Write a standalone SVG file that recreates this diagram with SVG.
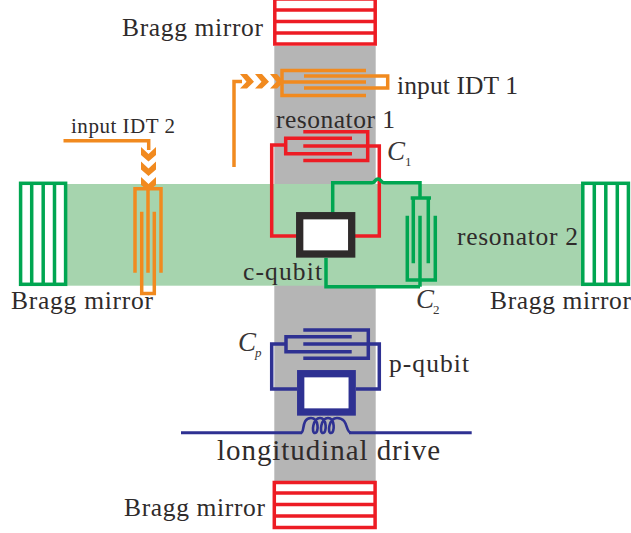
<svg xmlns="http://www.w3.org/2000/svg" width="631" height="533" viewBox="0 0 631 533">
<style>
.t{font-family:"Liberation Serif","Times New Roman",serif;font-size:25.5px;fill:#2f2b2b}
.i{font-style:italic;font-size:27px;fill:#3a3636}
.s{font-size:13px;fill:#3a3636}
.w{fill:none;stroke-width:3.5;stroke-linecap:butt;stroke-linejoin:miter}
.r{stroke:#ed1c24}.g{stroke:#00a651}.b{stroke:#2e3192}.o{stroke:#f18a1f}
.m{fill:#fff;stroke-width:3.5}
</style>
<rect width="631" height="533" fill="#fff"/>
<g id="resonator-1"><rect x="274.300" y="46" width="101.400" height="436" fill="#b5b5b5"/></g>
<g id="resonator-2"><rect x="20" y="184" width="562" height="101.700" fill="#a6d4ae"/></g>
<g id="mirror-top">
<rect class="m r" x="274.800" y="-1" width="100.400" height="45"/>
<path class="w r" d="M275 10H375M275 21.500H375M275 33H375"/>
</g>
<g id="mirror-bottom">
<rect class="m r" x="274.300" y="482.500" width="100.800" height="45"/>
<path class="w r" d="M274 493H375M274 504.500H375M274 516H375"/>
</g>
<g id="mirror-left">
<rect class="m g" x="20.600" y="183.300" width="45" height="101"/>
<path class="w g" d="M31.700 183V284M43.200 183V284M54.500 183V284"/>
</g>
<g id="mirror-right">
<rect class="m g" x="582.800" y="183.300" width="45.600" height="101"/>
<path class="w g" d="M594.300 183V284M605.800 183V284M617.300 183V284"/>
</g>
<g id="connectors">
<path class="w o" d="M234 167V81.500H242"/>
<path class="w o" d="M63.500 140.700H148.700V150"/>
<path class="w b" d="M181 432.700H302" style="stroke-width:3"/>
<path class="w b" d="M349 432.700H471.700" style="stroke-width:3"/>
<path fill="none" stroke="#2e3192" stroke-width="2.600" d="M301 432.700C305 432.700 301 418 311 418C319 418 319 433 315 433C311 433 313 418 320 418C327 418 327 433 323 433C319 433 321 418 328 418C335 418 335 433 331 433C327 433 329 418 337 418C349 418 345 432.700 351 432.700"/>
<path class="w r" d="M285.700 145H271.700V236H297"/>
<path class="w r" d="M367 146H379.300V236H355"/>
<path class="w g" d="M332.700 213V182.700H372C375 182.700 375 179 378 179C381 179 381 182.700 384 182.700H420V198"/>
<path class="w g" d="M326 258V286.700H420"/>
<path class="w b" d="M286 344H271.700V389H297"/>
<path class="w b" d="M368 344H379.300V389H356"/>
</g>
<g id="chevrons-1" fill="#f18a1f">
<path d="M240 74H247L254 81.700L247 88.500H240L246.500 81.700Z"/>
<path d="M255 74H262L269 81.700L262 88.500H255L261.500 81.700Z"/>
<path d="M270 74H277L284 81.700L277 88.500H270L276.500 81.700Z"/>
</g>
<g id="chevrons-2" fill="#f18a1f">
<path d="M141 147L148.500 154L156 147V155L148.500 161.500L141 155Z"/>
<path d="M141 161.500L148.500 168.500L156 161.500V169.500L148.500 176L141 169.500Z"/>
<path d="M141 177L148.500 184L156 177V185L148.500 191L141 185Z"/>
</g>
<g id="idt-1">
<path class="w o" d="M366 70.500H282V95.500H366M282 82H366"/>
<path class="w o" d="M304 76H387.700V88H304"/>
</g>
<g id="idt-2">
<path class="w o" d="M135 272.700V188.700H161V272.700M148 188.700V272.700M133.500 188.700H162.500"/>
<path class="w o" d="M141.700 211.700V293.500H154.300V211.700"/>
</g>
<g id="c1">
<path class="w r" d="M352 138.300H285.700V153.700H352"/>
<path class="w r" d="M303.300 131.700H367.700V160.500H303.300M303.300 146H367.700"/>
</g>
<g id="c2">
<path class="w g" d="M413.300 263.300V198H428.300V263.300M410.700 198H431"/>
<path class="w g" d="M407.300 215.700V280H435.300V215.700M420 215.700V286.700"/>
</g>
<g id="cp">
<path class="w b" d="M351.700 336.700H286V351.700H351.700"/>
<path class="w b" d="M303.300 330H368.300V358.300H303.300M303.300 344H368.300"/>
</g>
<g id="c-qubit"><rect x="299.700" y="215.700" width="52" height="38.300" fill="#fff" stroke="#2f2b2b" stroke-width="7.300"/></g>
<g id="p-qubit"><rect x="300.700" y="373.700" width="51.500" height="38.300" fill="#fff" stroke="#2e3192" stroke-width="7.300"/></g>
<g id="labels">
<text class="t" x="122" y="36" textLength="141">Bragg mirror</text>
<text class="t" x="397" y="94" textLength="121">input IDT 1</text>
<text class="t" x="71" y="133" textLength="104" style="font-size:21px">input IDT 2</text>
<text class="t" x="276" y="128" textLength="119">resonator 1</text>
<text class="t i" x="387" y="160">C</text>
<text class="t s" x="405" y="166">1</text>
<text class="t" x="457" y="245" textLength="121">resonator 2</text>
<text class="t" x="243" y="280" textLength="79">c-qubit</text>
<text class="t i" x="416" y="308">C</text>
<text class="t s" x="433" y="314">2</text>
<text class="t" x="11" y="309" textLength="142">Bragg mirror</text>
<text class="t" x="490" y="309" textLength="141">Bragg mirror</text>
<text class="t i" x="238" y="351">C</text>
<text class="t s" x="255" y="357" style="font-style:italic">p</text>
<text class="t" x="389" y="372" textLength="80">p-qubit</text>
<text class="t" x="217" y="460" textLength="223" style="font-size:29px">longitudinal drive</text>
<text class="t" x="124" y="516" textLength="141">Bragg mirror</text>
</g>
</svg>
